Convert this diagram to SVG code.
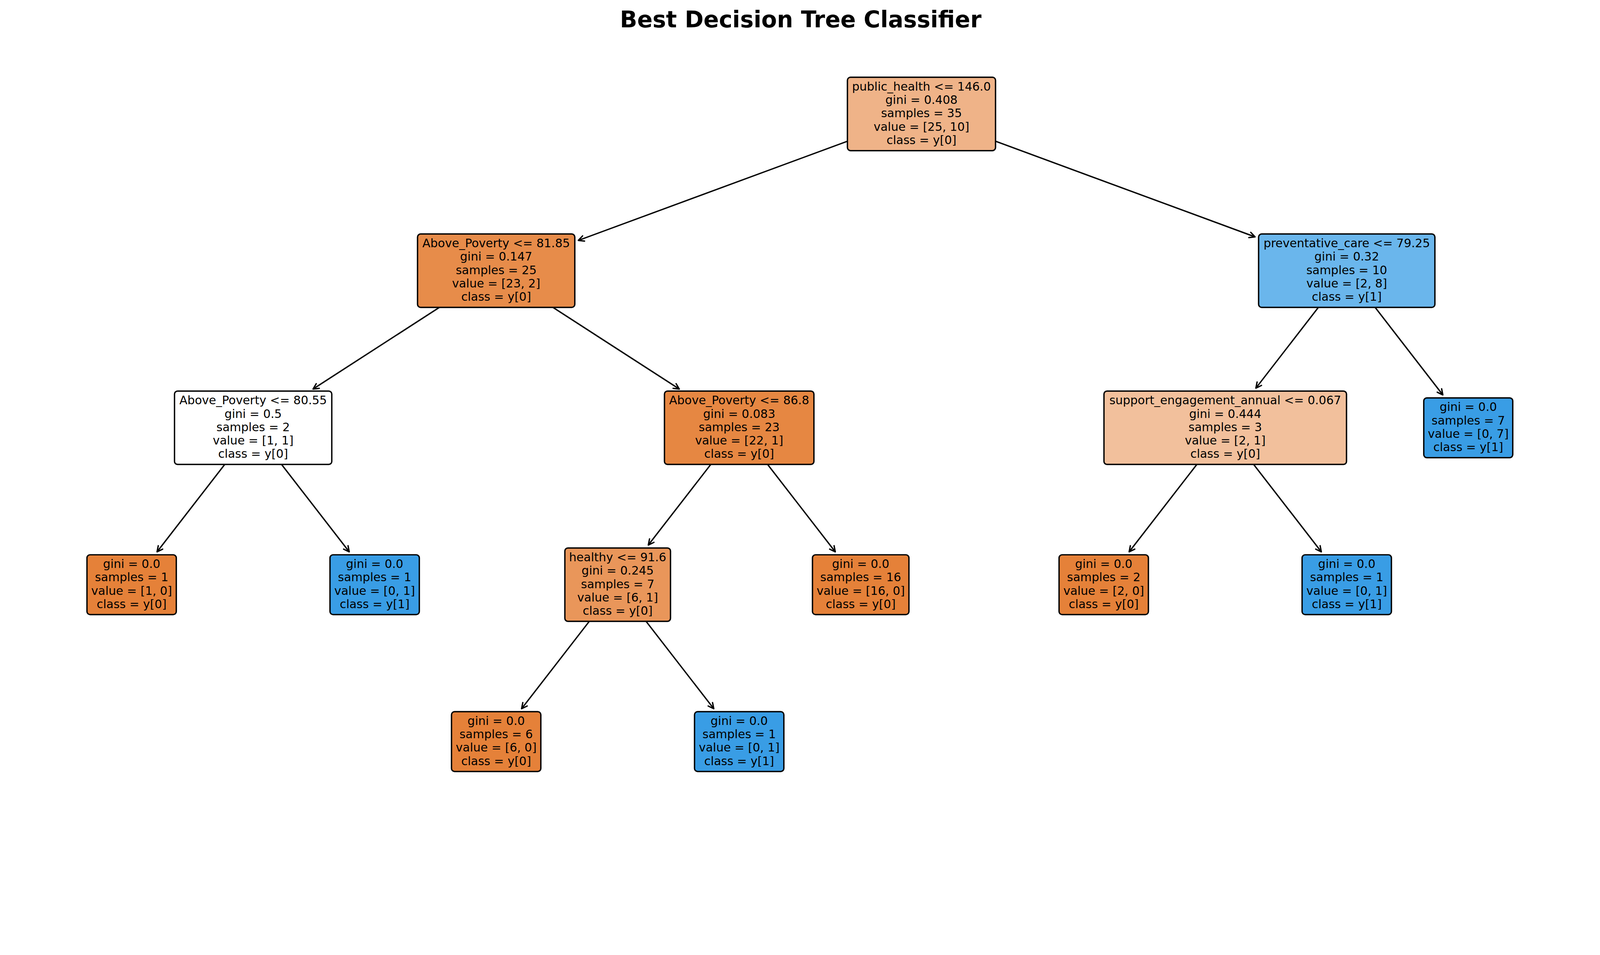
<svg xmlns="http://www.w3.org/2000/svg" width="4710" height="2445" viewBox="0 0 4710 2445" style="max-width:100%;height:auto;display:block">
<style>
.bg{fill:#ffffff}
.box{stroke:#000000;stroke-width:4;stroke-linejoin:round}
.c0{fill:#e58139}.c1{fill:#399de5}
.t{font-family:"DejaVu Sans","Liberation Sans",sans-serif;font-size:34.5px;fill:#000000;text-anchor:middle}
.title{font-family:"DejaVu Sans","Liberation Sans",sans-serif;font-size:66.7px;font-weight:bold;fill:#000000;text-anchor:middle}
.edge{fill:none;stroke:#000000;stroke-width:4;marker-end:url(#ah)}
</style>
<defs>
<marker id="ah" markerUnits="userSpaceOnUse" orient="auto" markerWidth="40" markerHeight="40" viewBox="-20 -20 40 40" refX="0" refY="0" style="overflow:visible">
<path d="M -16.5 -8.2 L 0 0 L -16.5 8.2" fill="none" stroke="#000000" stroke-width="4" stroke-linejoin="round" stroke-linecap="round"/>
</marker>
</defs>
<rect class="bg" x="0" y="0" width="4710" height="2445"/>
<text class="title" x="2357" y="80">Best Decision Tree Classifier</text>
<g id="connectors">
<path class="edge" d="M 2712.6 335.5 L 1702.4 707.9"/>
<path class="edge" d="M 2712.6 335.5 L 3694.6 697.5"/>
<path class="edge" d="M 1460.6 797 L 921.5 1145.5"/>
<path class="edge" d="M 1460.6 797 L 1999.7 1145.5"/>
<path class="edge" d="M 3964.5 797 L 3697.0 1142.8"/>
<path class="edge" d="M 3964.5 797 L 4247.4 1162.8"/>
<path class="edge" d="M 745.2 1259.5 L 462.3 1624.8"/>
<path class="edge" d="M 745.2 1259.5 L 1028.1 1624.8"/>
<path class="edge" d="M 2176 1259.5 L 1908.5 1604.8"/>
<path class="edge" d="M 2176 1259.5 L 2458.9 1624.8"/>
<path class="edge" d="M 3606.8 1259.5 L 3323.9 1624.8"/>
<path class="edge" d="M 3606.8 1259.5 L 3889.7 1624.8"/>
<path class="edge" d="M 1818.3 1721.5 L 1535.4 2086.8"/>
<path class="edge" d="M 1818.3 1721.5 L 2101.2 2086.8"/>
</g>
<g id="node0">
<rect class="box" x="2494.6" y="227.5" width="436" height="216" rx="9" fill="#efb388"/>
<text class="t"><tspan x="2712.6" y="266.7">public_health &lt;= 146.0</tspan><tspan x="2712.6" y="306.1">gini = 0.408</tspan><tspan x="2712.6" y="345.5">samples = 35</tspan><tspan x="2712.6" y="384.9">value = [25, 10]</tspan><tspan x="2712.6" y="424.3">class = y[0]</tspan></text>
</g>
<g id="node1">
<rect class="box" x="1229.1" y="689" width="463" height="216" rx="9" fill="#e78c4a"/>
<text class="t"><tspan x="1460.6" y="728.2">Above_Poverty &lt;= 81.85</tspan><tspan x="1460.6" y="767.6">gini = 0.147</tspan><tspan x="1460.6" y="807">samples = 25</tspan><tspan x="1460.6" y="846.4">value = [23, 2]</tspan><tspan x="1460.6" y="885.8">class = y[0]</tspan></text>
</g>
<g id="node2">
<rect class="box" x="513.7" y="1151.5" width="463" height="216" rx="9" fill="#ffffff"/>
<text class="t"><tspan x="745.2" y="1190.7">Above_Poverty &lt;= 80.55</tspan><tspan x="745.2" y="1230.1">gini = 0.5</tspan><tspan x="745.2" y="1269.5">samples = 2</tspan><tspan x="745.2" y="1308.9">value = [1, 1]</tspan><tspan x="745.2" y="1348.3">class = y[0]</tspan></text>
</g>
<g id="node3">
<rect class="box c0" x="256" y="1633.5" width="263" height="176" rx="9"/>
<text class="t"><tspan x="387.5" y="1672.4">gini = 0.0</tspan><tspan x="387.5" y="1711.8">samples = 1</tspan><tspan x="387.5" y="1751.2">value = [1, 0]</tspan><tspan x="387.5" y="1790.6">class = y[0]</tspan></text>
</g>
<g id="node4">
<rect class="box c1" x="971.4" y="1633.5" width="263" height="176" rx="9"/>
<text class="t"><tspan x="1102.9" y="1672.4">gini = 0.0</tspan><tspan x="1102.9" y="1711.8">samples = 1</tspan><tspan x="1102.9" y="1751.2">value = [0, 1]</tspan><tspan x="1102.9" y="1790.6">class = y[1]</tspan></text>
</g>
<g id="node5">
<rect class="box" x="1956" y="1151.5" width="440" height="216" rx="9" fill="#e68742"/>
<text class="t"><tspan x="2176" y="1190.7">Above_Poverty &lt;= 86.8</tspan><tspan x="2176" y="1230.1">gini = 0.083</tspan><tspan x="2176" y="1269.5">samples = 23</tspan><tspan x="2176" y="1308.9">value = [22, 1]</tspan><tspan x="2176" y="1348.3">class = y[0]</tspan></text>
</g>
<g id="node6">
<rect class="box" x="1662.8" y="1613.5" width="311" height="216" rx="9" fill="#e9965a"/>
<text class="t"><tspan x="1818.3" y="1652.7">healthy &lt;= 91.6</tspan><tspan x="1818.3" y="1692.1">gini = 0.245</tspan><tspan x="1818.3" y="1731.5">samples = 7</tspan><tspan x="1818.3" y="1770.9">value = [6, 1]</tspan><tspan x="1818.3" y="1810.3">class = y[0]</tspan></text>
</g>
<g id="node7">
<rect class="box c0" x="1329.1" y="2095.5" width="263" height="176" rx="9"/>
<text class="t"><tspan x="1460.6" y="2134.4">gini = 0.0</tspan><tspan x="1460.6" y="2173.8">samples = 6</tspan><tspan x="1460.6" y="2213.2">value = [6, 0]</tspan><tspan x="1460.6" y="2252.6">class = y[0]</tspan></text>
</g>
<g id="node8">
<rect class="box c1" x="2044.5" y="2095.5" width="263" height="176" rx="9"/>
<text class="t"><tspan x="2176" y="2134.4">gini = 0.0</tspan><tspan x="2176" y="2173.8">samples = 1</tspan><tspan x="2176" y="2213.2">value = [0, 1]</tspan><tspan x="2176" y="2252.6">class = y[1]</tspan></text>
</g>
<g id="node9">
<rect class="box c0" x="2391.7" y="1633.5" width="284" height="176" rx="9"/>
<text class="t"><tspan x="2533.7" y="1672.4">gini = 0.0</tspan><tspan x="2533.7" y="1711.8">samples = 16</tspan><tspan x="2533.7" y="1751.2">value = [16, 0]</tspan><tspan x="2533.7" y="1790.6">class = y[0]</tspan></text>
</g>
<g id="node10">
<rect class="box" x="3705" y="689" width="519" height="216" rx="9" fill="#6ab6ec"/>
<text class="t"><tspan x="3964.5" y="728.2">preventative_care &lt;= 79.25</tspan><tspan x="3964.5" y="767.6">gini = 0.32</tspan><tspan x="3964.5" y="807">samples = 10</tspan><tspan x="3964.5" y="846.4">value = [2, 8]</tspan><tspan x="3964.5" y="885.8">class = y[1]</tspan></text>
</g>
<g id="node11">
<rect class="box" x="3249.8" y="1151.5" width="714" height="216" rx="9" fill="#f2c09c"/>
<text class="t"><tspan x="3606.8" y="1190.7">support_engagement_annual &lt;= 0.067</tspan><tspan x="3606.8" y="1230.1">gini = 0.444</tspan><tspan x="3606.8" y="1269.5">samples = 3</tspan><tspan x="3606.8" y="1308.9">value = [2, 1]</tspan><tspan x="3606.8" y="1348.3">class = y[0]</tspan></text>
</g>
<g id="node12">
<rect class="box c0" x="3117.6" y="1633.5" width="263" height="176" rx="9"/>
<text class="t"><tspan x="3249.1" y="1672.4">gini = 0.0</tspan><tspan x="3249.1" y="1711.8">samples = 2</tspan><tspan x="3249.1" y="1751.2">value = [2, 0]</tspan><tspan x="3249.1" y="1790.6">class = y[0]</tspan></text>
</g>
<g id="node13">
<rect class="box c1" x="3833" y="1633.5" width="263" height="176" rx="9"/>
<text class="t"><tspan x="3964.5" y="1672.4">gini = 0.0</tspan><tspan x="3964.5" y="1711.8">samples = 1</tspan><tspan x="3964.5" y="1751.2">value = [0, 1]</tspan><tspan x="3964.5" y="1790.6">class = y[1]</tspan></text>
</g>
<g id="node14">
<rect class="box c1" x="4191.2" y="1171.5" width="262" height="176" rx="9"/>
<text class="t"><tspan x="4322.2" y="1210.4">gini = 0.0</tspan><tspan x="4322.2" y="1249.8">samples = 7</tspan><tspan x="4322.2" y="1289.2">value = [0, 7]</tspan><tspan x="4322.2" y="1328.6">class = y[1]</tspan></text>
</g>
</svg>
